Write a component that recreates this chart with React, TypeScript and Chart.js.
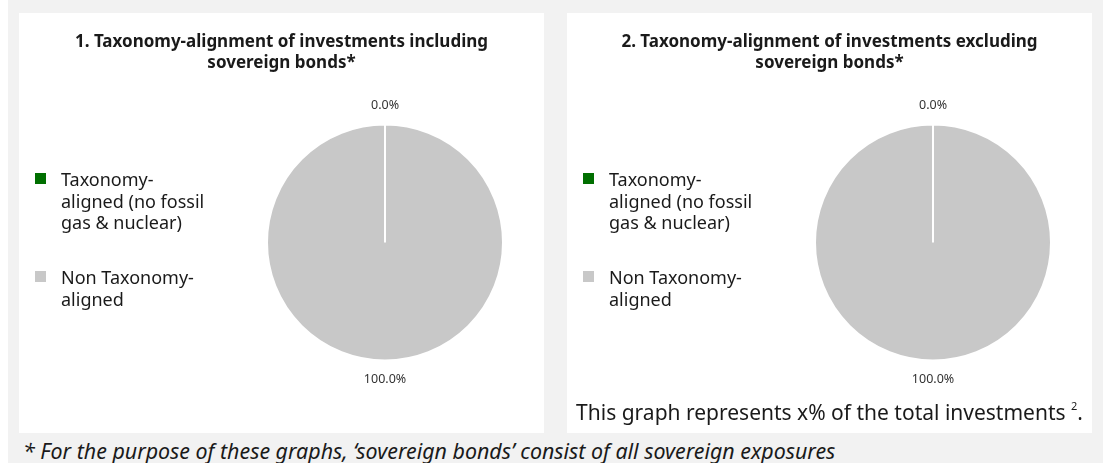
import React, { useEffect, useRef } from "react";
import { Chart, registerables } from "chart.js";

Chart.register(...registerables);

const categories = ["Taxonomy-aligned (no fossil gas & nuclear)", "Non Taxonomy-aligned"];
const legendLines = [
  ["Taxonomy-", "aligned (no fossil", "gas & nuclear)"],
  ["Non Taxonomy-", "aligned"],
];
const sliceColors = ["#006f00", "#c8c8c8"];
const valuesIncluding = [0, 100];
const valuesExcluding = [0, 100];
const titleIncluding = ["1. Taxonomy-alignment of investments including", "sovereign bonds*"];
const titleExcluding = ["2. Taxonomy-alignment of investments excluding", "sovereign bonds*"];
const noteExcluding = "This graph represents x% of the total investments";
const footnote = "* For the purpose of these graphs, \u2018sovereign bonds\u2019 consist of all sovereign exposures";

const FONT = '"Noto Sans", "Open Sans", sans-serif';

const decorPlugin = {
  id: "decor",
  afterDraw(chart: any, _args: any, opts: any) {
    const ctx = chart.ctx as CanvasRenderingContext2D;
    ctx.save();
    // title
    ctx.fillStyle = "#1a1a1a";
    ctx.textAlign = "center";
    ctx.textBaseline = "middle";
    ctx.font = `bold 17px ${FONT}`;
    (opts.title as string[]).forEach((line, i) => ctx.fillText(line, chart.width / 2, 29 + i * 21));

    // legend
    const legendTops = [160, 258];
    ctx.textAlign = "left";
    ctx.textBaseline = "alphabetic";
    ctx.font = `18px ${FONT}`;
    legendLines.forEach((lines, i) => {
      ctx.fillStyle = sliceColors[i];
      ctx.fillRect(16, legendTops[i], 11, 11);
      ctx.fillStyle = "#1a1a1a";
      lines.forEach((l, j) => ctx.fillText(l, 42, legendTops[i] + 13 + j * 21.5));
    });

    // data labels
    const meta = chart.getDatasetMeta(0);
    const data = chart.data.datasets[0].data as number[];
    const total = data.reduce((a, b) => a + b, 0);
    ctx.font = `12.5px ${FONT}`;
    ctx.fillStyle = "#333333";
    ctx.textAlign = "center";
    ctx.textBaseline = "middle";
    meta.data.forEach((arc: any, i: number) => {
      const p = arc.getProps(["x", "y", "startAngle", "endAngle", "outerRadius"], true);
      const mid = (p.startAngle + p.endAngle) / 2;
      const r = p.outerRadius + 19;
      const txt = ((data[i] / total) * 100).toFixed(1) + "%";
      ctx.fillText(txt, p.x + Math.cos(mid) * r, p.y + Math.sin(mid) * r);
    });

    // note
    if (opts.note) {
      ctx.fillStyle = "#1a1a1a";
      ctx.textBaseline = "alphabetic";
      const main = opts.note as string;
      ctx.font = `21px ${FONT}`;
      const wMain = ctx.measureText(main + " ").width;
      ctx.font = `11px ${FONT}`;
      const wSup = ctx.measureText("2").width;
      ctx.font = `21px ${FONT}`;
      const wDot = ctx.measureText(".").width;
      const total = wMain + wSup + wDot;
      let x = chart.width / 2 - total / 2;
      const base = 407;
      ctx.textAlign = "left";
      ctx.fillText(main + " ", x, base);
      x += wMain;
      ctx.font = `11px ${FONT}`;
      ctx.fillText("2", x, base - 10);
      x += wSup;
      ctx.font = `21px ${FONT}`;
      ctx.fillText(".", x, base);
    }
    ctx.restore();
  },
};

function PiePanel({ values, title, note, left }: { values: number[]; title: string[]; note?: string; left: number }) {
  const ref = useRef<HTMLCanvasElement>(null);
  useEffect(() => {
    const chart = new Chart(ref.current!, {
      type: "pie",
      data: {
        labels: categories,
        datasets: [
          {
            data: values,
            backgroundColor: sliceColors,
            borderColor: "#ffffff",
            borderWidth: 2,
          },
        ],
      },
      options: {
        animation: false,
        responsive: false,
        maintainAspectRatio: false,
        layout: { padding: { left: 247, right: 40, top: 110, bottom: 71 } },
        plugins: {
          legend: { display: false },
          title: { display: false },
          tooltip: { enabled: false },
          decor: { title, note },
        } as any,
      },
      plugins: [decorPlugin as any],
    });
    return () => chart.destroy();
  }, []);
  return (
    <div style={{ position: "absolute", left, top: 13, width: 525, height: 420, background: "#ffffff" }}>
      <canvas ref={ref} width={525} height={420} style={{ display: "block", width: 525, height: 420 }} />
    </div>
  );
}

export default function App() {
  return (
    <div style={{ position: "fixed", left: 8, top: 0, width: 1095, height: 463, background: "#f2f2f2", overflow: "hidden" }}>
      <PiePanel values={valuesIncluding} title={titleIncluding} left={11} />
      <PiePanel values={valuesExcluding} title={titleExcluding} note={noteExcluding} left={559} />
      <div
        style={{
          position: "absolute",
          left: 15,
          top: 436,
          fontFamily: FONT,
          fontStyle: "italic",
          fontSize: 21.4,
          lineHeight: "29px",
          color: "#1a1a1a",
          whiteSpace: "nowrap",
        }}
      >
        {footnote}
      </div>
    </div>
  );
}
